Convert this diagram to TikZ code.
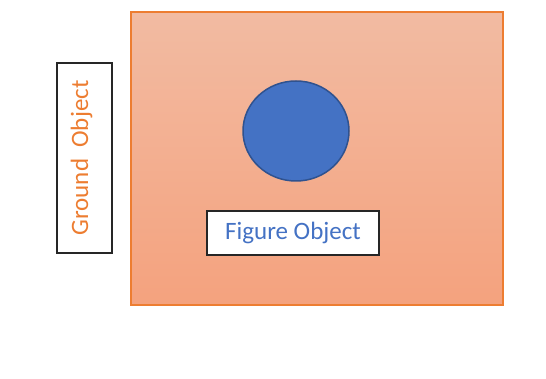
\documentclass[tikz,border=0pt]{standalone}
\usepackage{fontspec}
\setmainfont{Carlito}
\usetikzlibrary{calc}
\definecolor{groundorange}{RGB}{237,125,49}
\definecolor{groundtop}{RGB}{242,187,162}
\definecolor{groundbottom}{RGB}{244,162,126}
\definecolor{figureblue}{RGB}{68,114,196}
\definecolor{figureedge}{RGB}{47,82,143}
\tikzset{
	labelbox/.style={draw=black!85, line width=1.3pt, fill=white, inner sep=0pt},
	labeltext/.style={font=\fontsize{25}{30}\selectfont},
}

\begin{document}
\begin{tikzpicture}[x=1pt, y=-1pt]
			%%%%% START %%%%%
			\useasboundingbox (0, 0) rectangle (546, 379);
			
			\fill[white] (0, 0) rectangle (546, 379);
			
			\draw[line width=1.2pt, draw=groundorange, top color=groundtop, bottom color=groundbottom] (131, 12) rectangle (503, 305);
			
			\draw[line width=1.5pt, draw=figureedge, fill=figureblue] (296, 131) ellipse (53 and 50);
			
			\node[labelbox, minimum width=172pt, minimum height=44pt] (figbox) at (293, 233) {};
			\node[labeltext, text=figureblue] (figtext) at (figbox.center) {Figure Object};
			
			\node[labelbox, minimum width=55pt, minimum height=190pt] (gndbox) at (84.5, 158) {};
			\node[labeltext, text=groundorange, rotate=90] (gndtext) at ($(gndbox.center)+(-3,0)$) {Ground\ \ Object};
			
			%%%%% END %%%%%
		\end{tikzpicture}
\end{document}
